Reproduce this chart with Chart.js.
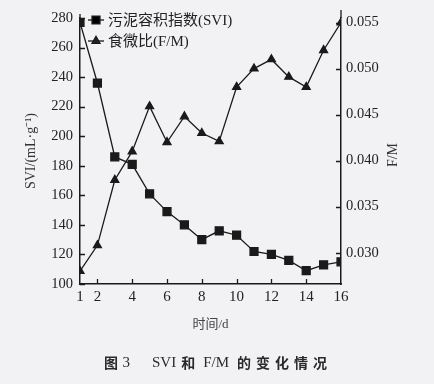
<!DOCTYPE html>
<html><head><meta charset="utf-8">
<script src="https://cdn.jsdelivr.net/npm/chart.js@4.4.0/dist/chart.umd.min.js"></script>
<style>html,body{margin:0;padding:0;background:#f2f2f4;}#wrap{width:434px;height:384px;}</style>
</head><body><div id="wrap"><canvas id="c" width="434" height="384"></canvas></div>
<script>
const days = [1,2,3,4,5,6,7,8,9,10,11,12,13,14,15,16];
const svi = [277,236,186,181,161,149,140,130,136,133,122,120,116,109,113,115];
const fm = [0.0280,0.0308,0.0379,0.0410,0.0459,0.0420,0.0448,0.0430,0.0421,0.0480,0.0500,0.0510,0.0491,0.0480,0.0520,0.0550];
const xTicks = [1,2,4,6,8,10,12,14,16];
const sviTicks = [100,120,140,160,180,200,220,240,260,280];
const fmTicks = [0.030,0.035,0.040,0.045,0.050,0.055];
const seriesNames = ['污泥容积指数(SVI)','食微比(F/M)'];
const xTitle = '时间/d';
const yTitle = 'SVI/(mL·g⁻¹)';
const y1Title = 'F/M';
const caption = [
  {t:'图', cjk:true, gap:4.5},
  {t:'3', gap:22},
  {t:'SVI', gap:5},
  {t:'和', cjk:true, gap:8},
  {t:'F/M', gap:8},
  {t:'的变化情况', cjk:true, ls:5, gap:0}
];

const SERIF = '"Liberation Serif","Noto Sans CJK SC",serif';
const INK = '#1a1a1a';

const extras = {
  id:'extras',
  afterDraw(chart){
    const ctx = chart.ctx, a = chart.chartArea;
    const sx = chart.scales.x, sy = chart.scales.y, sy1 = chart.scales.y1;
    ctx.save();
    ctx.strokeStyle = INK; ctx.lineWidth = 1.3;
    // inward ticks
    ctx.beginPath();
    xTicks.forEach(v=>{ if(v>1 && v<16){const p=Math.round(sx.getPixelForValue(v))+0.5; ctx.moveTo(p,a.bottom); ctx.lineTo(p,a.bottom-5);} });
    sviTicks.forEach(v=>{ const p=Math.round(sy.getPixelForValue(v))+0.5; ctx.moveTo(a.left,p); ctx.lineTo(a.left+5,p); });
    fmTicks.forEach(v=>{ const p=Math.round(sy1.getPixelForValue(v))+0.5; ctx.moveTo(a.right,p); ctx.lineTo(a.right-5,p); });
    // small extension of axes above plot
    ctx.moveTo(a.left,a.top); ctx.lineTo(a.left,a.top-4);
    ctx.moveTo(a.right,a.top); ctx.lineTo(a.right,a.top-8);
    ctx.stroke();

    // legend
    chart.data.datasets.forEach((ds,i)=>{
      const y = a.top + 2 + i*21;
      const x0 = a.left + 8, x1 = a.left + 24;
      ctx.strokeStyle = ds.borderColor; ctx.lineWidth = ds.borderWidth;
      ctx.beginPath(); ctx.moveTo(x0,y); ctx.lineTo(x1,y); ctx.stroke();
      Chart.helpers.drawPoint(ctx,{pointStyle:ds.pointStyle,radius:ds.pointRadius,borderWidth:1},(x0+x1)/2,y);
      ctx.fillStyle = INK;
      ctx.fillStyle = ds.pointBackgroundColor; ctx.strokeStyle = ds.borderColor;
      ctx.beginPath();
      ctx.fillStyle = '#222';
      ctx.font = '15px ' + SERIF;
      ctx.textBaseline = 'middle'; ctx.textAlign = 'left';
      ctx.fillText(ds.label, x1 + 4, y + 1);
    });

    // right axis title (rotated -90)
    ctx.save();
    ctx.translate(393, (a.top + a.bottom)/2 + 4);
    ctx.rotate(-Math.PI/2);
    ctx.font = '14px ' + SERIF; ctx.fillStyle = '#333';
    ctx.textAlign = 'center'; ctx.textBaseline = 'middle';
    ctx.fillText(y1Title, 0, 0);
    ctx.restore();

    // caption
    const fCjk = 'bold 14px "Noto Sans CJK SC",sans-serif';
    const fLat = '15px "Liberation Serif",serif';
    let total = 0;
    caption.forEach(s=>{
      ctx.font = s.cjk ? fCjk : fLat;
      ctx.letterSpacing = (s.ls||0) + 'px';
      s.w = ctx.measureText(s.t).width;
      total += s.w + s.gap;
    });
    let x = 218 - total/2;
    ctx.fillStyle = '#2a2a2a'; ctx.textAlign = 'left'; ctx.textBaseline = 'middle';
    caption.forEach(s=>{
      ctx.font = s.cjk ? fCjk : fLat;
      ctx.letterSpacing = (s.ls||0) + 'px';
      ctx.fillText(s.t, x, 363);
      x += s.w + s.gap;
    });
    ctx.letterSpacing = '0px';
    ctx.restore();
  }
};

new Chart(document.getElementById('c'), {
  type:'line',
  data:{
    labels: days,
    datasets:[
      {label:seriesNames[0], data:days.map((d,i)=>({x:d,y:svi[i]})), yAxisID:'y',
       borderColor:INK, backgroundColor:INK, pointBackgroundColor:INK, pointBorderColor:INK,
       borderWidth:1.3, pointStyle:'rect', pointRadius:5.6, tension:0},
      {label:seriesNames[1], data:days.map((d,i)=>({x:d,y:fm[i]})), yAxisID:'y1',
       borderColor:INK, backgroundColor:INK, pointBackgroundColor:INK, pointBorderColor:INK,
       borderWidth:1.3, pointStyle:'triangle', pointRadius:4.6, tension:0}
    ]
  },
  options:{
    responsive:false, animation:false, devicePixelRatio:1,
    layout:{padding:{top:18,left:0,right:0,bottom:0}},
    plugins:{legend:{display:false}, title:{display:false}, tooltip:{enabled:false}},
    scales:{
      x:{type:'linear', min:1, max:16, position:'bottom',
        afterBuildTicks:s=>{s.ticks = xTicks.map(v=>({value:v}));},
        afterFit:s=>{s.height = 100;},
        grid:{display:true, drawOnChartArea:false, drawTicks:false},
        border:{display:true, color:INK, width:1.5},
        ticks:{color:'#222', font:{family:SERIF, size:15}, padding:4, maxRotation:0, autoSkip:false},
        title:{display:true, text:xTitle, color:'#444', font:{family:SERIF, size:13}, padding:{top:0,bottom:52}}
      },
      y:{position:'left', min:100, max:280,
        afterBuildTicks:s=>{s.ticks = sviTicks.map(v=>({value:v}));},
        afterFit:s=>{s.width = 80;},
        grid:{display:true, drawOnChartArea:false, drawTicks:false},
        border:{display:true, color:INK, width:1.5},
        ticks:{color:'#222', font:{family:SERIF, size:14.5}, padding:7, autoSkip:false},
        title:{display:true, text:yTitle, color:'#333', font:{family:SERIF, size:14}, padding:{top:23,bottom:0}}
      },
      y1:{position:'right', min:0.0266, max:0.0555,
        afterBuildTicks:s=>{s.ticks = fmTicks.map(v=>({value:v}));},
        afterFit:s=>{s.width = 93;},
        grid:{display:true, drawOnChartArea:false, drawTicks:false},
        border:{display:true, color:INK, width:1.5},
        ticks:{color:'#222', font:{family:SERIF, size:14.5}, padding:5, autoSkip:false, callback:v=>v.toFixed(3)}
      }
    }
  },
  plugins:[extras]
});
</script></body></html>
